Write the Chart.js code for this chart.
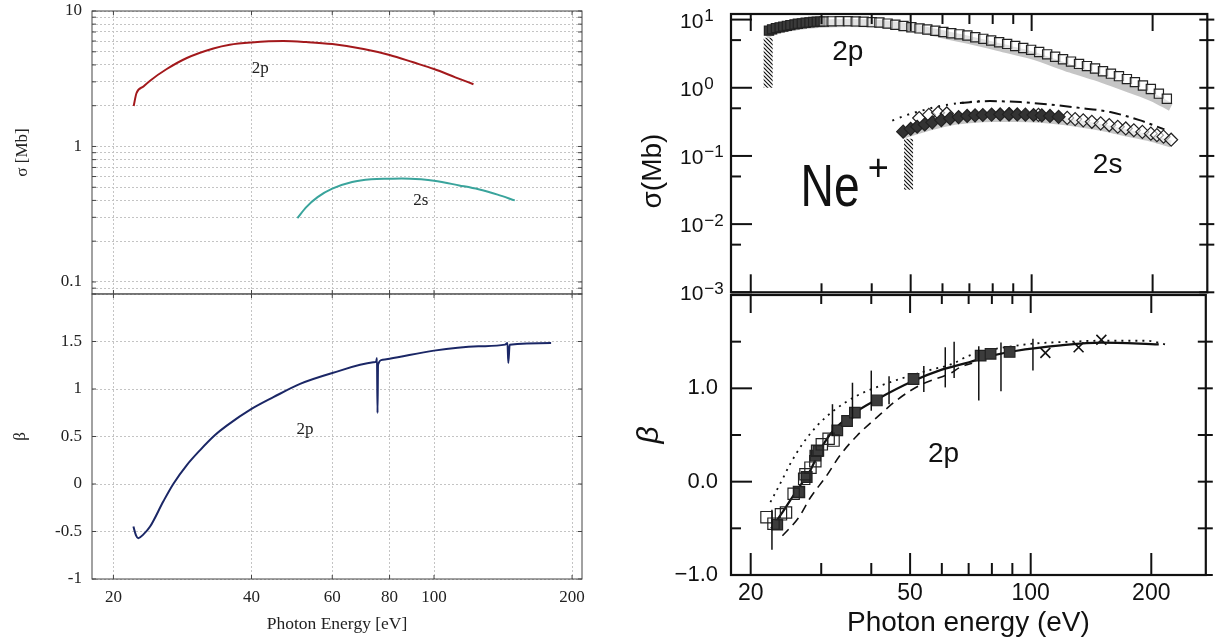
<!DOCTYPE html>
<html lang="en">
<head>
    <meta charset="UTF-8">
    <title>Ne+ 2p / 2s cross sections and beta</title>
    <script src="https://cdn.jsdelivr.net/npm/chart.js"></script>
    <style>
        body {
            margin: 0;
            background: #ffffff;
            width: 1215px;
            height: 643px;
            position: relative;
            overflow: hidden;
        }
        canvas {
            position: absolute;
        }
    </style>
</head>
<body>
    <canvas id="calcSigma" width="600" height="300" style="left:0;top:0"></canvas>
    <canvas id="calcBeta" width="600" height="363" style="left:0;top:280px"></canvas>
    <canvas id="measSigma" width="615" height="300" style="left:600px;top:0"></canvas>
    <canvas id="measBeta" width="615" height="363" style="left:600px;top:280px"></canvas>

    <script>
        // ---- left figure (calculation) ----
        const energyTicks = [20, 40, 60, 80, 100, 200];
        const sigmaGrid = [0.09, 0.1, 0.2, 0.3, 0.4, 0.5, 0.6, 0.7, 0.8, 0.9, 1, 2, 3, 4, 5, 6, 7, 8, 9, 10];
        const sigmaTickLabels = [0.1, 1, 10];
        const betaTicks = [-1, -0.5, 0, 0.5, 1, 1.5, 2];

        const calc2pE = [22.14, 22.45, 23.25, 24.04, 26.14, 28.91, 33.03, 35.86, 40.0, 46.93, 52.66, 60.0, 70.2, 80.0, 90.1, 100, 111.3, 121.9];
        const calc2pSigma = [1.99, 2.47, 2.77, 3.06, 3.73, 4.50, 5.29, 5.64, 5.86, 6.00, 5.90, 5.70, 5.24, 4.74, 4.18, 3.73, 3.24, 2.88];
        const calc2sE = [50.36, 52.66, 55.74, 60.0, 66.3, 72.97, 80.0, 85.1, 93.7, 100, 113.5, 125.0, 137.6, 150.0];
        const calc2sSigma = [0.296, 0.357, 0.423, 0.488, 0.546, 0.572, 0.578, 0.581, 0.572, 0.559, 0.516, 0.483, 0.441, 0.400];
        const calcBetaE = [22.11, 22.40, 22.66, 23.25, 24.04, 25.7, 27.03, 28.91, 30.91, 33.31, 35.33, 40.0, 44.65, 51.05, 60.0, 73.7, 74.8, 75.1, 75.3, 75.5, 77.3, 80.0, 100, 125.0, 142.9, 144.6, 145.2, 146.2, 180.0];
        const calcBeta = [-0.448, -0.54, -0.570, -0.53, -0.448, -0.182, 0.003, 0.199, 0.357, 0.515, 0.614, 0.790, 0.914, 1.054, 1.168, 1.281, 1.29, 1.326, 0.747, 1.256, 1.309, 1.319, 1.404, 1.449, 1.467, 1.484, 1.274, 1.467, 1.484];

        // ---- right figure (measurement) ----
        const expMajor = [20, 50, 100, 200];
        const expMinor = [30, 40, 60, 70, 80, 90];
        const decades = [1, 0, -1, -2, -3];
        const decadeTicks = [10, 1, 0.1, 0.01, 0.001];
        const halfTicks = [5, 0.5, 0.05, 0.005];
        const betaMajor = [-1, 0, 1];
        const betaMinor = [-0.5, 0.5, 1.5];

        const exp2pFilledE = [22.2, 22.6, 23.1, 23.6, 24.1, 24.6, 25.1, 25.7, 26.2, 26.8, 27.4, 28.0, 28.6, 29.2, 29.8];
        const exp2pFilled = [6.9, 7.2, 7.5, 7.7, 7.9, 8.1, 8.3, 8.5, 8.7, 8.8, 9.0, 9.1, 9.2, 9.3, 9.35];
        const exp2pOpenE = [30.4, 31.8, 33.3, 34.9, 36.5, 38.2, 40.0, 41.8, 43.8, 45.8, 48.0, 50.2, 52.6, 55.0, 57.6, 60.3, 63.1, 66.1, 69.2, 72.4, 75.8, 79.3, 83.0, 86.9, 91.0, 95.3, 99.7, 104.4, 109.3, 114.4, 119.7, 125.3, 131.2, 137.3, 143.8, 150.5, 157.5, 164.9, 172.6, 180.7, 189.2, 198.0, 207.3, 217.0];
        const exp2pOpen = [9.36, 9.43, 9.49, 9.49, 9.40, 9.30, 9.17, 9.06, 8.73, 8.39, 8.06, 7.74, 7.43, 7.14, 6.86, 6.58, 6.32, 6.08, 5.84, 5.50, 5.22, 4.93, 4.66, 4.40, 4.10, 3.84, 3.60, 3.35, 3.09, 2.85, 2.62, 2.42, 2.24, 2.08, 1.92, 1.75, 1.61, 1.48, 1.34, 1.21, 1.08, 0.96, 0.82, 0.69];
        const band2pE = [21.8, 23, 26, 30, 35, 42, 50, 60, 70, 85, 100, 125, 150, 175, 200, 222];
        const band2p = [6.0, 6.9, 8.0, 8.7, 8.9, 8.6, 7.6, 6.1, 5.0, 3.8, 3.0, 1.9, 1.35, 0.97, 0.72, 0.52];

        const exp2sFilledE = [47.9, 50.0, 51.9, 54.2, 56.6, 59.6, 62.7, 65.8, 69.1, 72.3, 75.6, 79.5, 83.5, 87.8, 92.1, 96.5, 101.1, 106.0, 111.1, 116.7];
        const exp2sFilled = [0.227, 0.25, 0.268, 0.29, 0.311, 0.335, 0.355, 0.372, 0.386, 0.394, 0.399, 0.404, 0.406, 0.407, 0.406, 0.403, 0.399, 0.393, 0.386, 0.375];
        const exp2sOpenE = [52.5, 55.5, 58.5, 61.5, 88.0, 104.0, 122.6, 128.3, 134.4, 141.2, 148.5, 156.0, 163.8, 171.5, 179.6, 188.6, 198.0, 205.0, 212.9, 222.4];
        const exp2sOpen = [0.36, 0.40, 0.43, 0.42, 0.41, 0.40, 0.361, 0.347, 0.333, 0.317, 0.301, 0.284, 0.268, 0.253, 0.238, 0.225, 0.212, 0.202, 0.192, 0.173];
        const band2sE = [47.5, 52, 57, 63, 70, 80, 92, 105, 120, 135, 150, 165, 180, 200, 222];
        const band2s = [0.20, 0.235, 0.275, 0.315, 0.34, 0.355, 0.355, 0.345, 0.32, 0.29, 0.26, 0.23, 0.205, 0.18, 0.15];
        const theo2sDotE = [45.0, 49.0, 52.8, 59.3, 66.3, 74.2];
        const theo2sDot = [0.33, 0.40, 0.456, 0.54, 0.596, 0.637];
        const theo2sDashE = [66.3, 78.7, 93.9, 111.1, 132.3, 156.9, 185.5, 214];
        const theo2sDash = [0.596, 0.637, 0.616, 0.567, 0.505, 0.44, 0.335, 0.245];
        const edge2pE = [22.1, 22.1];
        const edge2p = [1.0, 5.4];
        const edge2sE = [49.4, 49.4];
        const edge2s = [0.0318, 0.179];

        const betaOpenE = [21.9, 22.8, 23.8, 24.5, 25.6, 26.4, 27.2, 27.4, 28.2, 29.0, 29.3, 30.1, 31.3, 32.2];
        const betaOpen = [-0.38, -0.45, -0.35, -0.33, -0.13, -0.11, 0.03, 0.08, 0.15, 0.22, 0.33, 0.40, 0.46, 0.44];
        const betaFilledE = [23.3, 26.4, 27.6, 29.0, 29.5, 32.9, 34.8, 36.4, 41.3, 51.0, 75.0, 79.4, 88.6];
        const betaFilled = [-0.46, -0.11, 0.05, 0.28, 0.33, 0.55, 0.65, 0.74, 0.87, 1.10, 1.35, 1.37, 1.39];
        const betaCrossE = [108.8, 131.7, 150.1];
        const betaCross = [1.38, 1.44, 1.52];
        const errE = [22.6, 32.0, 35.9, 40.0, 44.3, 54.1, 61.2, 64.4, 74.2, 84.3, 101.3];
        const errLo = [-0.73, 0.49, 0.67, 0.76, 0.83, 0.96, 1.01, 1.11, 0.87, 0.97, 1.19];
        const errHi = [-0.30, 0.83, 1.06, 1.19, 1.13, 1.24, 1.44, 1.50, 1.45, 1.49, 1.53];
        const betaSolidE = [22.5, 24, 26, 28, 30, 32.2, 36.4, 41.3, 51, 60, 70.2, 80, 91.5, 118.8, 150, 208.8];
        const betaSolid = [-0.50, -0.33, -0.10, 0.10, 0.36, 0.55, 0.74, 0.88, 1.08, 1.20, 1.28, 1.35, 1.40, 1.46, 1.49, 1.47];
        const betaDotE = [22.4, 23.9, 25.1, 26.9, 29.3, 32.2, 36.8, 42.9, 55.3, 63.6, 70.2, 97.1, 126.7, 147.3, 193.8, 217.5];
        const betaDot = [-0.22, 0.01, 0.19, 0.40, 0.60, 0.76, 0.92, 1.04, 1.19, 1.26, 1.35, 1.47, 1.50, 1.51, 1.51, 1.47];
        const betaDashE = [24.0, 26.4, 28.2, 30.9, 33.4, 36.8, 42.1, 46.2, 52.7, 63.6, 66.3, 71.4];
        const betaDash = [-0.58, -0.38, -0.17, 0.06, 0.28, 0.49, 0.72, 0.87, 1.03, 1.17, 1.22, 1.27];

        const serif = "'Liberation Serif', 'Times New Roman', serif";
        const sans = "'Liberation Sans', Arial, sans-serif";
        const gridCol = '#c4c4c4';

        function pts(xs, ys) {
            return xs.map((x, i) => ({ x: x, y: ys[i] }));
        }
        function curve(xs, ys, color, width, dash, order) {
            return {
                data: pts(xs, ys), showLine: true, pointRadius: 0, borderColor: color,
                borderWidth: width, borderDash: dash || [], cubicInterpolationMode: 'monotone', order: order || 5
            };
        }
        function marks(xs, ys, style, r, fill, stroke, order) {
            return {
                data: pts(xs, ys), showLine: false, pointStyle: style, pointRadius: r,
                backgroundColor: fill, borderColor: stroke, borderWidth: 1.2, order: order || 1
            };
        }
        function hatch() {
            const c = document.createElement('canvas');
            c.width = 4; c.height = 4;
            const g = c.getContext('2d');
            g.fillStyle = '#fff'; g.fillRect(0, 0, 4, 4);
            g.strokeStyle = '#111'; g.lineWidth = 1.2;
            g.beginPath();
            g.moveTo(0, 0); g.lineTo(4, 4);
            g.moveTo(-1, 3); g.lineTo(1, 5);
            g.moveTo(3, -1); g.lineTo(5, 1);
            g.stroke();
            return g.createPattern(c, 'repeat');
        }

        // frame around plot area
        const frame = {
            id: 'frame',
            afterDatasetsDraw(chart, args, o) {
                const { ctx, chartArea: a } = chart;
                ctx.save();
                ctx.strokeStyle = o.color;
                ctx.lineWidth = o.width;
                ctx.strokeRect(a.left, a.top, a.right - a.left, a.bottom - a.top);
                ctx.restore();
            }
        };

        // tick marks along the frame edges
        const edgeTicks = {
            id: 'edgeTicks',
            afterDatasetsDraw(chart, args, o) {
                const { ctx, chartArea: a, scales } = chart;
                ctx.save();
                ctx.strokeStyle = o.color;
                ctx.lineWidth = o.width;
                (o.marks || []).forEach(m => {
                    const sc = scales[m.axis];
                    const out = m.out || 0;
                    m.values.forEach(v => {
                        const p = sc.getPixelForValue(v);
                        ctx.beginPath();
                        if (m.edge === 'left') { ctx.moveTo(a.left - out, p); ctx.lineTo(a.left + m.len, p); }
                        if (m.edge === 'right') { ctx.moveTo(a.right + out, p); ctx.lineTo(a.right - m.len, p); }
                        if (m.edge === 'top') { ctx.moveTo(p, a.top - out); ctx.lineTo(p, a.top + m.len); }
                        if (m.edge === 'bottom') { ctx.moveTo(p, a.bottom + out); ctx.lineTo(p, a.bottom - m.len); }
                        ctx.stroke();
                    });
                });
                ctx.restore();
            }
        };

        // text labels inside the plots
        const notes = {
            id: 'notes',
            afterDatasetsDraw(chart, args, o) {
                const { ctx, scales } = chart;
                (o.items || []).forEach(n => {
                    const px = n.px !== undefined ? n.px : scales.x.getPixelForValue(n.x);
                    const py = n.py !== undefined ? n.py : scales.y.getPixelForValue(n.y);
                    ctx.save();
                    ctx.translate(px, py);
                    if (n.rot) ctx.rotate(n.rot);
                    if (n.sx) ctx.scale(n.sx, 1);
                    ctx.font = n.font;
                    ctx.fillStyle = n.color || '#111';
                    ctx.textAlign = n.align || 'center';
                    ctx.textBaseline = n.base || 'middle';
                    ctx.fillText(n.text, 0, 0);
                    ctx.restore();
                });
            }
        };

        // 10^n labels on the measured sigma axis
        const powerTicks = {
            id: 'powerTicks',
            afterDraw(chart, args, o) {
                if (!o.exponents) return;
                const { ctx } = chart;
                const sc = chart.scales.y;
                ctx.save();
                ctx.fillStyle = '#111';
                ctx.textAlign = 'left';
                ctx.textBaseline = 'alphabetic';
                o.exponents.forEach(n => {
                    const y = sc.getPixelForValue(Math.pow(10, n));
                    ctx.font = '21px ' + sans;
                    ctx.fillText('10', o.left, y + 8);
                    const w = ctx.measureText('10').width;
                    ctx.font = '17px ' + sans;
                    ctx.fillText(n < 0 ? '\u2212' + (-n) : String(n), o.left + w + 1, y + 1.5);
                });
                ctx.restore();
            }
        };

        // vertical error bars on measured beta
        const errorBars = {
            id: 'errorBars',
            afterDatasetsDraw(chart, args, o) {
                if (!o.xs) return;
                const { ctx, scales } = chart;
                ctx.save();
                ctx.strokeStyle = '#111';
                ctx.lineWidth = 1.5;
                o.xs.forEach((e, i) => {
                    const x = scales.x.getPixelForValue(e);
                    ctx.beginPath();
                    ctx.moveTo(x, scales.y.getPixelForValue(o.lo[i]));
                    ctx.lineTo(x, scales.y.getPixelForValue(o.hi[i]));
                    ctx.stroke();
                });
                ctx.restore();
            }
        };

        const allPlugins = [frame, edgeTicks, notes, powerTicks, errorBars];

        function baseOptions(padding, extra) {
            return Object.assign({
                responsive: false,
                animation: false,
                events: [],
                devicePixelRatio: 1,
                layout: { padding: padding }
            }, extra);
        }

        // ---- left top: sigma ----
        new Chart(document.getElementById('calcSigma'), {
            type: 'scatter',
            data: {
                datasets: [
                    curve(calc2pE, calc2pSigma, '#a3191c', 2),
                    curve(calc2sE, calc2sSigma, '#3aa49c', 2)
                ]
            },
            options: baseOptions({ left: 0, right: 18, top: 11, bottom: 6 }, {
                plugins: {
                    legend: { display: false },
                    tooltip: { enabled: false },
                    frame: { color: '#444', width: 1 },
                    edgeTicks: {
                        color: '#444', width: 1, marks: [
                            { axis: 'y', values: sigmaGrid, edge: 'left', len: 4 },
                            { axis: 'y', values: sigmaGrid, edge: 'right', len: 4 },
                            { axis: 'x', values: energyTicks, edge: 'top', len: 4 },
                            { axis: 'x', values: energyTicks, edge: 'bottom', len: 4 }
                        ]
                    },
                    notes: {
                        items: [
                            { text: '2p', x: 41.8, y: 3.75, font: '17px ' + serif, color: '#222' },
                            { text: '2s', x: 93.6, y: 0.40, font: '17px ' + serif, color: '#222' }
                        ]
                    }
                },
                scales: {
                    x: {
                        type: 'logarithmic', min: 17.96, max: 210.2,
                        afterBuildTicks: s => { s.ticks = energyTicks.map(v => ({ value: v })); },
                        afterFit: s => { s.height = 0; s.paddingLeft = 0; s.paddingRight = 0; },
                        ticks: { display: false, autoSkip: false },
                        grid: { color: gridCol, drawTicks: false },
                        border: { display: false, dash: [2, 2] }
                    },
                    y: {
                        type: 'logarithmic', min: 0.0815, max: 10,
                        afterBuildTicks: s => { s.ticks = sigmaGrid.map(v => ({ value: v })); },
                        afterFit: s => { s.width = 92; s.paddingTop = 0; s.paddingBottom = 0; },
                        ticks: {
                            autoSkip: false, padding: 10, color: '#222',
                            font: { family: serif, size: 17 },
                            callback: v => sigmaTickLabels.includes(v) ? String(v) : ''
                        },
                        grid: { color: gridCol, drawTicks: false },
                        border: { display: false, dash: [2, 2] },
                        title: {
                            display: true, text: '\u03c3 [Mb]', color: '#222',
                            font: { family: serif, size: 17 }, padding: { top: 12.8, bottom: 0 }
                        }
                    }
                }
            }),
            plugins: allPlugins
        });

        // ---- left bottom: beta ----
        new Chart(document.getElementById('calcBeta'), {
            type: 'scatter',
            data: {
                datasets: [curve(calcBetaE, calcBeta, '#1b2766', 2)]
            },
            options: baseOptions({ left: 0, right: 18, top: 14, bottom: 0 }, {
                plugins: {
                    legend: { display: false },
                    tooltip: { enabled: false },
                    frame: { color: '#444', width: 1 },
                    edgeTicks: {
                        color: '#444', width: 1, marks: [
                            { axis: 'y', values: betaTicks, edge: 'left', len: 4 },
                            { axis: 'y', values: betaTicks, edge: 'right', len: 4 },
                            { axis: 'x', values: energyTicks, edge: 'top', len: 4 },
                            { axis: 'x', values: energyTicks, edge: 'bottom', len: 4 }
                        ]
                    },
                    notes: {
                        items: [{ text: '2p', x: 52.3, y: 0.574, font: '17px ' + serif, color: '#222' }]
                    }
                },
                scales: {
                    x: {
                        type: 'logarithmic', min: 17.96, max: 210.2,
                        afterBuildTicks: s => { s.ticks = energyTicks.map(v => ({ value: v })); },
                        afterFit: s => { s.height = 64; s.paddingLeft = 0; s.paddingRight = 0; },
                        ticks: {
                            autoSkip: false, maxRotation: 0, padding: 8, color: '#222',
                            font: { family: serif, size: 17 }, callback: v => String(v)
                        },
                        grid: { color: gridCol, drawTicks: false },
                        border: { display: false, dash: [2, 2] },
                        title: {
                            display: true, text: 'Photon Energy [eV]', color: '#222',
                            font: { family: serif, size: 17.5 }, padding: { top: 0, bottom: 8.5 }
                        }
                    },
                    y: {
                        type: 'linear', min: -1, max: 2,
                        afterBuildTicks: s => { s.ticks = betaTicks.map(v => ({ value: v })); },
                        afterFit: s => { s.width = 92; s.paddingTop = 0; s.paddingBottom = 0; },
                        ticks: {
                            autoSkip: false, padding: 10, color: '#222',
                            font: { family: serif, size: 17 },
                            callback: v => v === 2 ? '' : String(v)
                        },
                        grid: { color: gridCol, drawTicks: false },
                        border: { display: false, dash: [2, 2] },
                        title: {
                            display: true, text: '\u03b2', color: '#222',
                            font: { family: serif, size: 17 }, padding: { top: 10.8, bottom: 0 }
                        }
                    }
                }
            }),
            plugins: allPlugins
        });

        const stripes = hatch();
        const edgeSet = (xs, ys) => ({
            data: pts(xs, ys), showLine: true, pointRadius: 0, borderColor: stripes,
            borderWidth: 9, borderCapStyle: 'butt', order: 2
        });

        // ---- right top: measured sigma ----
        new Chart(document.getElementById('measSigma'), {
            type: 'scatter',
            data: {
                datasets: [
                    curve(band2pE, band2p, 'rgba(150,150,150,0.55)', 8, [], 10),
                    curve(band2sE, band2s, 'rgba(150,150,150,0.55)', 7, [], 10),
                    curve(theo2sDotE, theo2sDot, '#111', 2, [2, 6], 6),
                    curve(theo2sDashE, theo2sDash, '#111', 2, [12, 5, 3, 5], 6),
                    edgeSet(edge2pE, edge2p),
                    edgeSet(edge2sE, edge2s),
                    marks(exp2pOpenE, exp2pOpen, 'rect', 6.5, 'rgba(255,255,255,0.5)', '#222', 1),
                    marks(exp2pFilledE, exp2pFilled, 'rect', 6.5, '#3a3a3a', '#222', 1),
                    marks(exp2sFilledE, exp2sFilled, 'rectRot', 6.5, '#333333', '#222', 1),
                    marks(exp2sOpenE, exp2sOpen, 'rectRot', 6.5, 'rgba(255,255,255,0.6)', '#222', 0)
                ]
            },
            options: baseOptions({ left: 0, right: 7, top: 14, bottom: 5 }, {
                plugins: {
                    legend: { display: false },
                    tooltip: { enabled: false },
                    frame: { color: '#111', width: 2.2 },
                    edgeTicks: {
                        color: '#111', width: 2, marks: [
                            { axis: 'y', values: decadeTicks, edge: 'left', len: 21 },
                            { axis: 'y', values: halfTicks, edge: 'left', len: 10 },
                            { axis: 'y', values: decadeTicks.concat(halfTicks), edge: 'right', len: 8, out: 7 },
                            { axis: 'x', values: expMajor, edge: 'top', len: 17 },
                            { axis: 'x', values: expMinor, edge: 'top', len: 10 },
                            { axis: 'x', values: expMajor, edge: 'bottom', len: 18 },
                            { axis: 'x', values: expMinor, edge: 'bottom', len: 9 }
                        ]
                    },
                    powerTicks: { exponents: decades, left: 80 },
                    notes: {
                        items: [
                            { text: '2p', x: 31.9, y: 2.59, font: '28px ' + sans, align: 'left', base: 'alphabetic' },
                            { text: '2s', x: 142, y: 0.0557, font: '28px ' + sans, align: 'left', base: 'alphabetic' },
                            { text: 'Ne', x: 26.6, y: 0.0183, font: '60px ' + sans, align: 'left', base: 'alphabetic', sx: 0.77 },
                            { text: '+', x: 41.5, y: 0.0617, font: '36px ' + sans },
                            { text: '\u03c3(Mb)', px: 53, py: 171, rot: -Math.PI / 2, font: '28px ' + sans }
                        ]
                    }
                },
                scales: {
                    x: {
                        type: 'logarithmic', min: 17.86, max: 273.6,
                        afterBuildTicks: s => { s.ticks = expMajor.map(v => ({ value: v })); },
                        afterFit: s => { s.height = 0; s.paddingLeft = 0; s.paddingRight = 0; },
                        ticks: { display: false },
                        grid: { display: false, drawTicks: false },
                        border: { display: false }
                    },
                    y: {
                        type: 'logarithmic', min: 0.001, max: 12.08,
                        afterBuildTicks: s => { s.ticks = decadeTicks.map(v => ({ value: v })); },
                        afterFit: s => { s.width = 131; s.paddingTop = 0; s.paddingBottom = 0; },
                        ticks: { display: false },
                        grid: { display: false, drawTicks: false },
                        border: { display: false }
                    }
                }
            }),
            plugins: allPlugins
        });

        // ---- right bottom: measured beta ----
        new Chart(document.getElementById('measBeta'), {
            type: 'scatter',
            data: {
                datasets: [
                    curve(betaSolidE, betaSolid, '#111', 2.2, [], 6),
                    curve(betaDotE, betaDot, '#111', 1.8, [2, 5], 6),
                    curve(betaDashE, betaDash, '#111', 1.6, [9, 6], 6),
                    marks(betaOpenE, betaOpen, 'rect', 8, 'rgba(255,255,255,0)', '#222', 1),
                    marks(betaFilledE, betaFilled, 'rect', 7.5, '#3c3c3c', '#222', 0),
                    Object.assign(marks(betaCrossE, betaCross, 'crossRot', 7, '#111', '#111', 0), { borderWidth: 1.6 })
                ]
            },
            options: baseOptions({ left: 0, right: 7, top: 15, bottom: 0 }, {
                plugins: {
                    legend: { display: false },
                    tooltip: { enabled: false },
                    frame: { color: '#111', width: 2.2 },
                    edgeTicks: {
                        color: '#111', width: 2, marks: [
                            { axis: 'y', values: betaMajor, edge: 'left', len: 21 },
                            { axis: 'y', values: betaMinor, edge: 'left', len: 10 },
                            { axis: 'y', values: betaMajor.concat(betaMinor), edge: 'right', len: 8, out: 7 },
                            { axis: 'x', values: expMajor, edge: 'top', len: 18 },
                            { axis: 'x', values: expMinor, edge: 'top', len: 9 },
                            { axis: 'x', values: expMajor, edge: 'bottom', len: 22 },
                            { axis: 'x', values: expMinor, edge: 'bottom', len: 12 }
                        ]
                    },
                    errorBars: { xs: errE, lo: errLo, hi: errHi },
                    notes: {
                        items: [
                            { text: '2p', x: 55.4, y: 0.206, font: '28px ' + sans, align: 'left', base: 'alphabetic' }
                        ]
                    }
                },
                scales: {
                    x: {
                        type: 'logarithmic', min: 17.86, max: 273.6,
                        afterBuildTicks: s => { s.ticks = expMajor.map(v => ({ value: v })); },
                        afterFit: s => { s.height = 68; s.paddingLeft = 0; s.paddingRight = 0; },
                        ticks: {
                            autoSkip: false, maxRotation: 0, padding: 4.5, color: '#111',
                            font: { family: sans, size: 23 }, callback: v => String(v)
                        },
                        grid: { display: false, drawTicks: false },
                        border: { display: false },
                        title: {
                            display: true, text: 'Photon energy (eV)', color: '#111',
                            font: { family: sans, size: 28 }, padding: { top: 0, bottom: 3 }
                        }
                    },
                    y: {
                        type: 'linear', min: -1, max: 2,
                        afterBuildTicks: s => { s.ticks = betaMajor.map(v => ({ value: v })); },
                        afterFit: s => { s.width = 131; s.paddingTop = 0; s.paddingBottom = 0; },
                        ticks: {
                            autoSkip: false, padding: 13, color: '#111',
                            font: { family: sans, size: 22 },
                            callback: v => v.toFixed(1).replace('-', '\u2212')
                        },
                        grid: { display: false, drawTicks: false },
                        border: { display: false },
                        title: {
                            display: true, text: '\u03b2', color: '#111',
                            font: { family: sans, size: 30, style: 'italic' }, padding: { top: 32, bottom: 0 }
                        }
                    }
                }
            }),
            plugins: allPlugins
        });
    </script>
</body>
</html>
